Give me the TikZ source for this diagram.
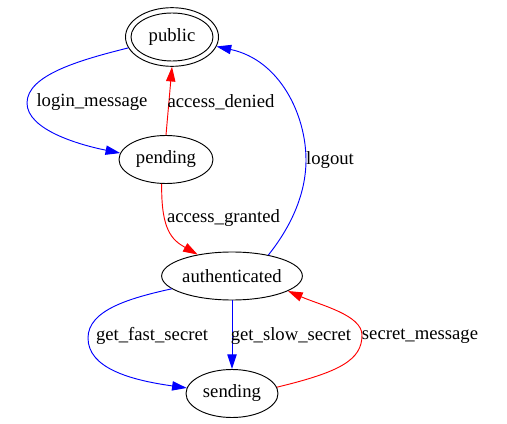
\documentclass[tikz,border=0pt]{standalone}
\usepackage{fontspec}
\setmainfont{Liberation Serif}
\usetikzlibrary{shapes.geometric,arrows.meta}
\tikzset{
  state/.style={ellipse, draw, line width=0.7pt, inner sep=0pt, minimum height=36pt},
  lbl/.style={inner sep=0pt},
  edge/.style={line width=0.7pt, -{Triangle[length=11pt,width=7pt]}},
  blueedge/.style={edge, draw=blue},
  rededge/.style={edge, draw=red}
}
\begin{document}
\begin{tikzpicture}[x=0.75pt, y=-0.75pt, font=\fontsize{14}{16}\selectfont]
\useasboundingbox (0,0) rectangle (507,424);
% nodes
\node[state, minimum width=69.75pt, minimum height=44pt] (public) at (172,37) {public};
\draw[line width=0.7pt] (public.center) ellipse [x radius=30.75pt, y radius=18pt];
\node[state, minimum width=70.5pt] (pending) at (166,159.5) {pending};
\node[state, minimum width=99pt] (auth) at (232,276) {authenticated};
\node[state, minimum width=69pt] (sending) at (232,393.5) {sending};
% helper coordinates
\coordinate (lm) at (27,103);
\coordinate (lo) at (306,160);
\coordinate (gf) at (88,338);
\coordinate (sm) at (362,335);
% edges
\draw[blueedge] (public.194) .. controls (80,60) and (27,75) .. (lm)
   .. controls (27,130) and (80,145) .. (pending.172);
\draw[rededge] (pending.north) -- (public.south);
\draw[rededge] (pending.260) .. controls (161,230) and (172,240) .. (auth.148);
\draw[blueedge] (auth.30) .. controls (290,228) and (306,195) .. (lo)
   .. controls (306,115) and (280,60) .. (public.-12);
\draw[blueedge] (auth.192) .. controls (130,298) and (88,310) .. (gf)
   .. controls (88,368) and (130,380) .. (sending.173);
\draw[blueedge] (auth.south) -- (sending.north);
\draw[rededge] (sending.8) .. controls (340,372) and (362,360) .. (sm)
   .. controls (362,315) and (320,305) .. (auth.-15);
% labels
\node[lbl] (l1) at (92,102) {login\_message};
\node[lbl] (l2) at (221,102) {access\_denied};
\node[lbl] (l3) at (223.5,218) {access\_granted};
\node[lbl] (l4) at (330,160) {logout};
\node[lbl] (l5) at (152,336) {get\_fast\_secret};
\node[lbl] (l6) at (291,336) {get\_slow\_secret};
\node[lbl] (l7) at (420,336) {secret\_message};
\end{tikzpicture}
\end{document}
